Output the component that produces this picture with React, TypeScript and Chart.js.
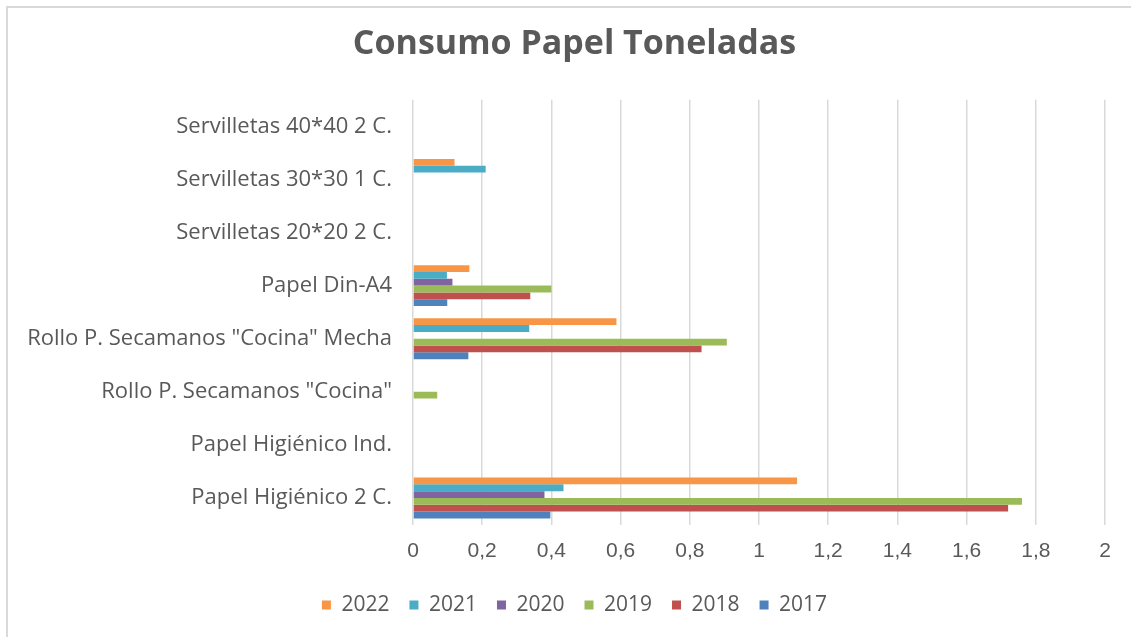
import React, { useEffect, useRef } from "react";
import { Chart, registerables } from "chart.js";

Chart.register(...registerables);

const categories = [
  "Papel Higiénico 2 C.",
  "Papel Higiénico Ind.",
  'Rollo P. Secamanos "Cocina"',
  'Rollo P. Secamanos "Cocina" Mecha',
  "Papel Din-A4",
  "Servilletas 20*20 2 C.",
  "Servilletas 30*30 1 C.",
  "Servilletas 40*40 2 C.",
];

const years = ["2022", "2021", "2020", "2019", "2018", "2017"];

const v2022 = [1.11, 0, 0, 0.588, 0.163, 0, 0.12, 0];
const v2021 = [0.435, 0, 0, 0.336, 0.098, 0, 0.21, 0];
const v2020 = [0.38, 0, 0, 0, 0.114, 0, 0, 0];
const v2019 = [1.76, 0, 0.07, 0.907, 0.4, 0, 0, 0];
const v2018 = [1.72, 0, 0, 0.834, 0.339, 0, 0, 0];
const v2017 = [0.397, 0, 0, 0.16, 0.099, 0, 0, 0];

const seriesValues = [v2022, v2021, v2020, v2019, v2018, v2017];
const seriesColors = ["#F79646", "#4BACC6", "#8064A2", "#9BBB59", "#C0504D", "#4F81BD"];

const xTickMin = 0;
const xTickMax = 2;
const xTickStep = 0.2;

export default function App() {
  const ref = useRef<HTMLCanvasElement | null>(null);

  useEffect(() => {
    document.body.style.margin = "0";
    const canvas = ref.current;
    if (!canvas) return;
    const chart = new Chart(canvas, {
      type: "bar",
      data: {
        labels: categories,
        datasets: years.map((y, i) => ({
          label: y,
          data: seriesValues[i],
          backgroundColor: seriesColors[i],
          borderWidth: 0,
          categoryPercentage: 0.77,
          barPercentage: 1,
          yAxisID: "y",
        })),
      },
      options: {
        indexAxis: "y",
        animation: false,
        responsive: false,
        maintainAspectRatio: false,
        layout: { padding: { left: 18, right: 0, top: 0, bottom: 11.5 } },
        plugins: {
          title: {
            display: true,
            text: "Consumo Papel Toneladas",
            color: "#595959",
            font: { family: "'Open Sans'", size: 34, weight: "bold" },
            padding: { top: 24, bottom: 35 },
          },
          legend: {
            position: "bottom",
            labels: {
              color: "#595959",
              font: { family: "'Open Sans'", size: 21 },
              boxWidth: 9,
              boxHeight: 9,
              padding: 20,
            },
          },
          tooltip: { enabled: false },
        },
        scales: {
          x: {
            min: xTickMin,
            max: xTickMax,
            ticks: {
              stepSize: xTickStep,
              color: "#595959",
              font: { family: "'Liberation Sans'", size: 21 },
              padding: 14,
              callback: (v: any) => String(Math.round(Number(v) * 10) / 10).replace(".", ","),
            },
            grid: { color: "#d9d9d9", lineWidth: 1.5, drawTicks: false },
            border: { display: false },
            afterFit: (s: any) => {
              s.height = 50;
            },
          },
          y: {
            reverse: true,
            ticks: {
              color: "#595959",
              font: { family: "'Open Sans'", size: 22 },
              padding: 21,
            },
            grid: { display: false, drawTicks: false },
            border: { display: false },
            afterFit: (s: any) => {
              s.width = 395;
            },
          },
          yRight: {
            type: "linear",
            position: "right",
            min: 0,
            max: 1,
            ticks: { display: false },
            grid: { display: false, drawTicks: false },
            border: { display: false },
            afterFit: (s: any) => {
              s.width = 26;
            },
          },
        },
      },
    });
    return () => chart.destroy();
  }, []);

  return (
    <div style={{ position: "absolute", left: 0, top: 0, width: 1131, height: 637, background: "#fff", overflow: "hidden" }}>
      <div
        style={{
          position: "absolute",
          left: 6,
          top: 6,
          width: 1200,
          height: 700,
          borderTop: "2px solid #d9d9d9",
          borderLeft: "2px solid #d9d9d9",
        }}
      />
      <canvas ref={ref} width={1131} height={637} style={{ position: "absolute", left: 0, top: 0 }} />
    </div>
  );
}
